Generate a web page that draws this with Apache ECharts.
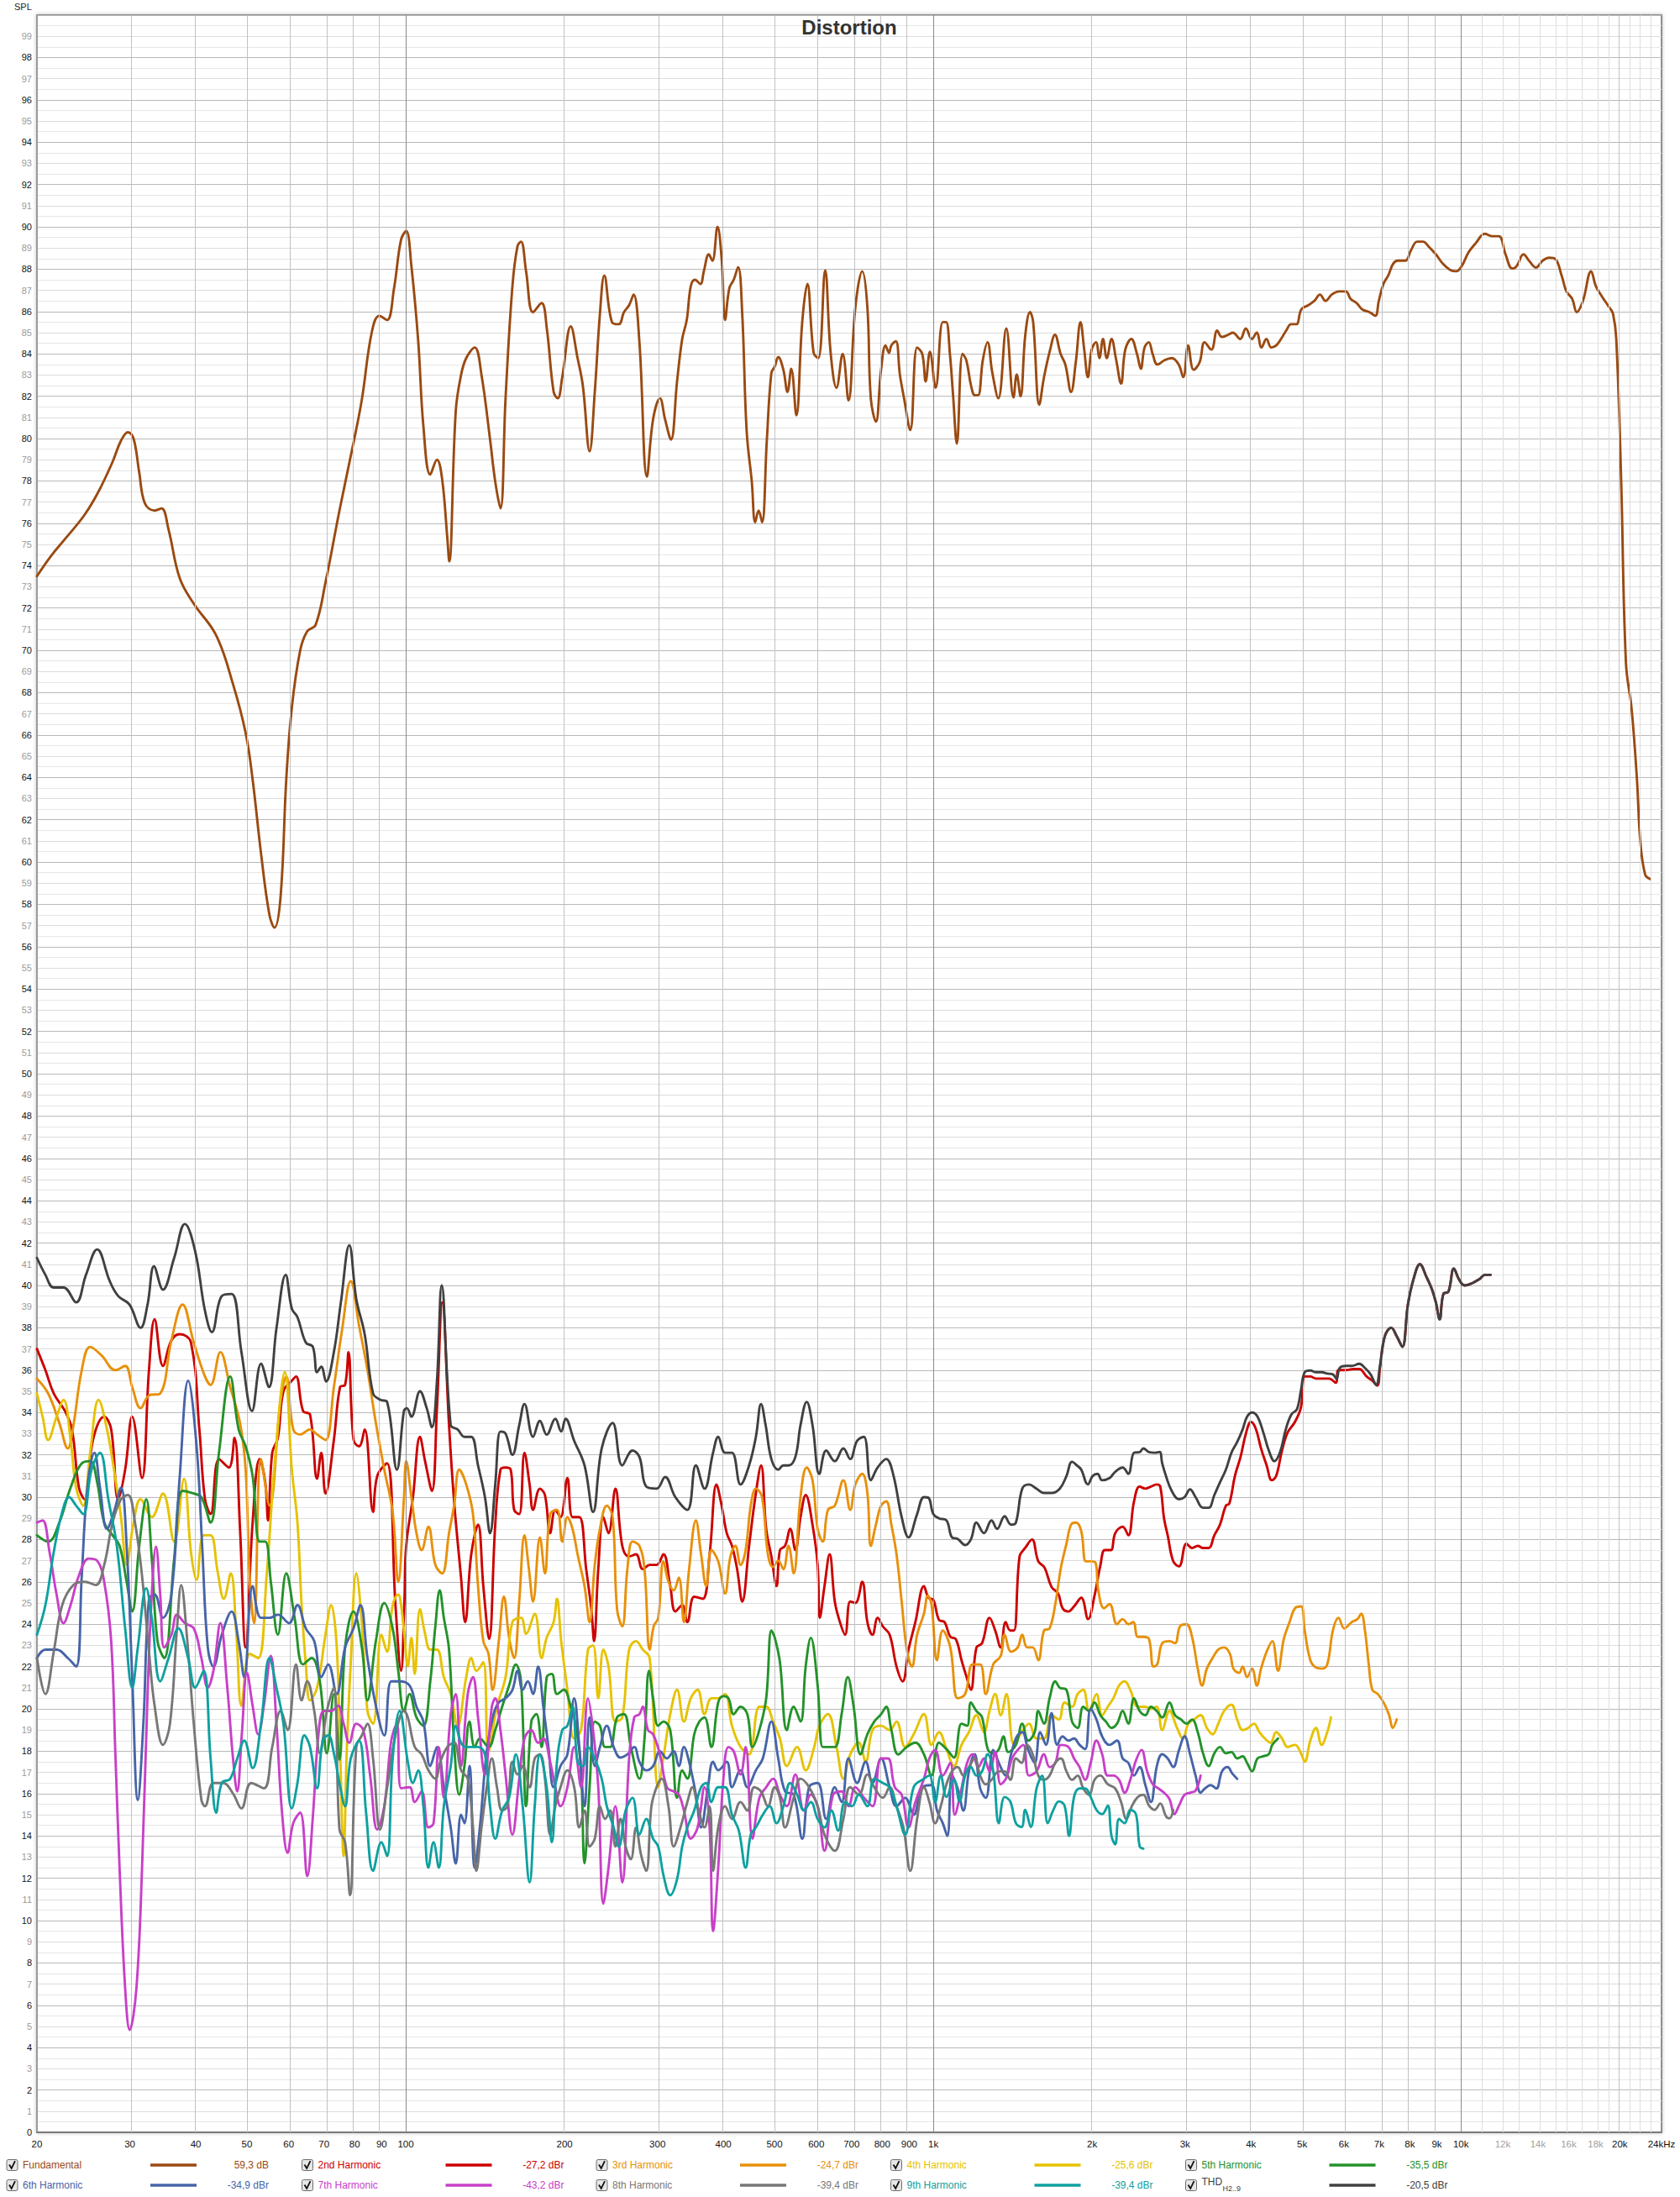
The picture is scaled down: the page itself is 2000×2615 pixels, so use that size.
<!DOCTYPE html>
<html><head><meta charset="utf-8">
<script src="https://cdn.jsdelivr.net/npm/echarts@6/dist/echarts.min.js"></script>
<style>html,body{margin:0;padding:0;background:#fff}#c{width:2000px;height:2615px}</style>
</head><body><div id="c"></div>
<script>
// ---- data: [frequency Hz, dB] ----
const fundamental = [[20,73.5],[21.26,74.45],[22.6,75.25],[24.62,76.4],[26.17,77.5],[27.82,78.9],[28.86,79.9],[29.75,80.3],[30.49,80.0],[31.25,78.4],[32.02,76.95],[33.42,76.6],[34.45,76.7],[35.52,75.7],[37.3,73.4],[39.65,72.2],[43.73,70.7],[47.06,68.4],[49.72,66.1],[51.26,63.9],[53.18,60.4],[55.17,57.5],[56.39,56.9],[57.93,58.4],[59.37,63.9],[60.83,67.3],[63.1,70.0],[65.06,70.9],[67.49,71.2],[70.45,73.2],[74.88,76.6],[79.61,79.8],[82.58,81.85],[86.19,85.0],[89.08,85.8],[92.17,85.6],[95.03,87.1],[97.99,89.4],[100.2,89.8],[102.5,88.15],[105.6,84.6],[108,80.6],[111.3,78.3],[114.6,79.0],[117.2,78.1],[119.9,75.3],[120.9,74.2],[124.4,81.3],[127.3,83.0],[130.2,83.8],[135.1,84.3],[139.2,83.0],[144.5,79.95],[147.8,77.96],[151.2,76.7],[154.6,81.9],[159.3,87.2],[162.9,89.1],[165.4,89.3],[169.1,87.9],[174.3,85.97],[180.9,86.4],[185.1,85.2],[190.7,82.2],[194.2,81.9],[198,82.9],[205.5,85.3],[211.7,83.8],[216.6,82.5],[223.1,79.4],[228.2,82.2],[233.4,85.9],[237.9,87.7],[246,85.5],[253.4,85.4],[259.2,85.97],[265.1,86.3],[270.3,86.8],[277.2,84.6],[286.5,78.2],[294.3,80.9],[303.3,81.9],[310.2,80.9],[318.2,79.95],[326.8,82.7],[334.2,84.7],[340.9,85.6],[347,87.2],[353.4,87.5],[361.8,87.3],[367.3,87.9],[375.3,88.7],[381.3,88.4],[389.9,90.0],[397,88.5],[403,85.6],[410.5,87.1],[418.4,87.5],[426.6,88.1],[434.3,85.9],[442.8,80.35],[452.8,77.97],[459.6,76.05],[466.5,76.6],[473.6,76.05],[483.6,79.95],[493.2,83.1],[500.6,83.4],[508.2,83.85],[519.7,83.25],[529.1,82.2],[537.9,83.3],[550,81.1],[564.3,85.5],[577.1,87.3],[593.1,84.05],[605.4,83.8],[623.7,87.95],[638.8,84.05],[655.4,82.4],[673.2,84.0],[690.6,81.8],[711.6,86.2],[733.2,87.9],[749.9,86.2],[761.2,81.9],[778.4,80.8],[796.1,83.25],[811.8,84.4],[824.1,84.05],[832.7,84.4],[849,84.6],[864.4,83.0],[880.1,81.9],[904.1,80.4],[931.6,84.3],[952.8,84.0],[967.1,82.7],[985.1,84.1],[1010,82.4],[1042,85.5],[1057,85.5],[1075,84.0],[1090,82.05],[1108,79.76],[1136,84.0],[1155,83.7],[1179,82.5],[1199,82.05],[1216,82.05],[1241,83.7],[1267,84.55],[1293,83.14],[1328,81.9],[1375,85.2],[1419,81.94],[1439,83.03],[1463,82.0],[1494,84.9],[1525,85.97],[1546,85.5],[1588,81.6],[1621,82.9],[1665,84.2],[1700,84.9],[1743,84.0],[1779,83.5],[1824,82.2],[1862,83.6],[1901,85.5],[1932,84.2],[1963,82.9],[1996,84.2],[2034,84.55],[2064,83.8],[2097,84.7],[2132,83.8],[2177,84.7],[2218,83.8],[2269,82.6],[2311,84.2],[2373,84.7],[2432,84.0],[2473,83.3],[2514,84.3],[2561,84.55],[2604,84.0],[2659,83.5],[2743,83.7],[2832,83.8],[2917,83.5],[2977,82.9],[3040,84.4],[3115,83.25],[3197,83.6],[3267,84.55],[3365,84.2],[3452,85.1],[3523,84.8],[3619,84.9],[3696,85.0],[3816,84.7],[3911,85.2],[4016,84.7],[4101,85.0],[4189,84.3],[4279,84.7],[4371,84.3],[4466,84.4],[4560,84.7],[4664,85.1],[4766,85.4],[4877,85.4],[4983,86.1],[5136,86.3],[5274,86.5],[5405,86.8],[5538,86.5],[5690,86.8],[5870,86.95],[6052,86.95],[6179,86.6],[6344,86.4],[6500,86.1],[6708,85.97],[6882,85.8],[6988,86.5],[7130,87.3],[7282,87.7],[7437,88.25],[7594,88.4],[7842,88.4],[8044,88.9],[8260,89.3],[8478,89.3],[8693,89.06],[8965,88.7],[9248,88.25],[9536,87.97],[9799,87.9],[10030,88.14],[10340,88.8],[10670,89.23],[11100,89.67],[11440,89.56],[11800,89.56],[12150,88.7],[12510,88.03],[12750,88.14],[13140,88.7],[13500,88.36],[13880,88.08],[14280,88.4],[14690,88.54],[15110,88.47],[15520,87.7],[15850,86.95],[16250,86.6],[16580,85.97],[17030,86.5],[17650,87.9],[18020,87.2],[18520,86.7],[19100,86.2],[19420,85.9],[19700,84.7],[20120,78.1],[20550,69.4],[21070,67.2],[21550,63.98],[21890,60.9],[22350,59.4],[22820,59.2]];

const harmonic2 = [[20,37.0],[20.75,36.0],[21.52,34.9],[22.6,34.07],[23.3,33.2],[24.02,30.45],[24.62,29.9],[25.54,32.7],[26.82,33.8],[27.65,33.2],[28.51,29.9],[29.39,31.3],[30.31,33.8],[31.63,30.9],[32.61,36.0],[33.42,38.4],[34.66,36.2],[35.96,37.4],[37.3,37.7],[39.17,37.3],[40.63,33.2],[41.64,29.9],[42.67,29.2],[44.26,31.8],[46.2,31.4],[47.35,32.8],[48.52,28.5],[49.72,22.9],[51.26,28.8],[52.85,31.8],[54.16,30.7],[54.83,28.9],[55.84,32.1],[57.23,32.8],[58.64,35.0],[60.83,35.5],[61.95,35.7],[63.88,34.07],[65.86,33.9],[67.91,30.87],[69.17,32.1],[70.45,30.17],[73.08,32.7],[75.07,35.2],[76.74,35.3],[77.88,36.85],[79.61,32.7],[81.58,32.4],[83.59,33.2],[86.71,29.3],[88.31,31.0],[92.17,31.6],[95.62,24.9],[97.99,21.8],[99.4,25.0],[100.2,27.7],[103.2,30.0],[106.4,32.85],[108.8,31.7],[112.1,30.3],[114.6,34.2],[117.3,39.2],[120.8,33.4],[123.5,29.8],[127.3,26.2],[129.6,24.1],[133.1,27.3],[137.1,28.7],[140.3,25.8],[143.9,23.3],[147.8,28.7],[151.2,31.3],[154.6,31.4],[158.1,31.3],[160.5,29.4],[164.1,29.2],[167.9,32.1],[171.7,30.6],[174.3,29.4],[179.6,30.4],[183.6,30.1],[187.8,28.3],[192.1,29.4],[196.5,29.06],[202.5,30.9],[207.1,29.06],[213.3,29.06],[219.8,26.6],[224.8,24.7],[227.5,23.2],[231.7,26.6],[236.9,29.06],[242.3,28.3],[249.7,30.4],[257.3,27.7],[265.1,27.2],[273.2,27.3],[281.4,26.6],[290,26.8],[298.8,26.8],[307.9,27.3],[317.2,25.8],[324.4,24.6],[334.2,24.9],[341.8,24.1],[352.2,25.3],[365.6,25.2],[376.7,27.3],[388.2,30.6],[397,29.6],[406,28.3],[415.3,27.7],[424.7,26.6],[434.3,25.07],[447.5,27.7],[461,30.2],[471.5,31.5],[482.2,28.5],[493.2,27.2],[504.4,25.8],[512,27.5],[523.6,27.7],[535.5,28.5],[547.7,27.5],[560.1,29.06],[572.9,30.1],[590.2,28.7],[603.6,26.8],[609.4,24.3],[621.9,25.8],[636,27.3],[650.5,25.07],[665.2,24.1],[680.3,23.5],[695.8,25.07],[711.6,25.0],[733.2,26.0],[749.9,24.1],[766.9,23.5],[784.3,24.3],[802.1,23.9],[826.5,23.5],[851.6,22.0],[874.8,21.3],[897.4,22.8],[924.7,24.1],[959.9,25.8],[979,25.25],[1000,25.15],[1025,24.2],[1050,24.1],[1077,23.4],[1103,23.3],[1131,22.3],[1153,21.6],[1178,20.9],[1207,22.9],[1237,23.1],[1278,24.3],[1310,23.7],[1342,22.9],[1371,24.1],[1399,23.7],[1422,23.7],[1457,27.2],[1493,27.6],[1538,28.0],[1581,26.97],[1625,26.67],[1675,25.76],[1724,25.45],[1758,24.75],[1803,24.6],[1848,24.84],[1907,25.25],[1965,24.24],[2021,25.35],[2073,26.77],[2114,27.5],[2170,27.5],[2212,28.3],[2285,28.6],[2342,28.2],[2401,29.8],[2461,30.5],[2523,30.4],[2585,30.5],[2650,30.6],[2692,30.5],[2737,29.0],[2781,28.2],[2849,26.97],[2922,26.73],[3018,27.8],[3093,27.6],[3171,27.7],[3245,27.6],[3326,27.6],[3409,28.2],[3494,28.7],[3585,29.6],[3640,29.7],[3729,31.0],[3822,31.9],[3917,33.05],[3999,33.55],[4082,33.25],[4180,32.3],[4283,31.5],[4381,30.8],[4465,31.0],[4580,32.2],[4693,33.05],[4846,33.55],[4977,34.26],[5057,35.7],[5183,35.7],[5311,35.6],[5444,35.6],[5626,35.6],[5793,35.4],[5860,36.0],[6060,36.0],[6254,36.05],[6419,36.05],[6627,35.7],[6793,35.5],[6942,35.27],[7023,36.1],[7174,37.6],[7377,38.0],[7557,37.6],[7744,37.1],[7935,39.1],[8132,40.3],[8361,41.0],[8604,40.4],[8817,39.8],[8964,39.2],[9113,38.4],[9263,39.6],[9468,39.7],[9696,40.8],[9910,40.3],[10160,40.0],[10490,40.1],[10840,40.3],[11110,40.5],[11380,40.5]];

const harmonic3 = [[20,35.6],[21.0,34.9],[22.05,33.5],[22.88,32.3],[23.45,33.4],[24.32,36.0],[25.23,37.1],[26.5,36.7],[28.16,36.0],[29.39,36.2],[30.31,35.2],[31.44,34.2],[32.61,34.8],[34.25,34.9],[35.96,37.4],[37.76,39.1],[39.65,37.3],[41.64,35.7],[42.67,35.3],[44.53,36.85],[46.48,35.2],[48.52,33.5],[49.72,31.3],[50.64,26.0],[51.58,24.05],[53.18,31.8],[55.17,29.6],[57.93,34.6],[59.37,35.7],[61.2,33.2],[63.1,32.96],[65.86,33.2],[67.91,32.96],[70.45,32.7],[73.08,35.2],[75.81,37.97],[78.64,40.2],[81.58,38.1],[84.62,36.0],[87.78,33.5],[91.06,31.3],[94.45,29.3],[96.79,26.0],[99.2,29.9],[100.2,31.7],[102.5,30.0],[104.8,28.3],[107.2,27.5],[110.4,28.6],[113.8,26.8],[117.2,26.4],[120.8,28.3],[123.5,29.6],[126.3,31.3],[130.2,30.6],[134.1,29.2],[137.1,25.8],[140.3,23.2],[143.5,22.6],[146.1,20.9],[150.1,23.2],[153.5,25.3],[157,23.36],[160.5,22.4],[164.1,25.07],[167.9,28.2],[171.2,26.6],[174.3,25.07],[179.6,28.1],[183.6,26.4],[187.8,29.2],[193.5,29.4],[198,27.9],[202.5,29.06],[207.1,28.5],[211.7,27.3],[218.2,25.8],[223.1,24.1],[228.2,26.8],[233.4,28.5],[240.5,29.6],[246.7,29.06],[251.5,24.7],[257.3,23.9],[263.1,26.6],[269.1,27.9],[277.3,27.7],[283.5,26.6],[290,22.8],[295.2,23.9],[301,24.3],[307.9,26.97],[314.8,26.0],[322,25.6],[329.3,26.2],[336.7,24.1],[344.4,26.6],[354.8,28.9],[362.9,27.3],[371.1,25.8],[379.6,27.5],[391.1,26.97],[403,25.45],[412.1,27.15],[421.5,27.7],[431.1,26.8],[440.8,27.5],[450.8,29.6],[461,30.4],[473.6,30.0],[485.8,27.3],[496.9,26.7],[508.2,27.0],[519.7,26.6],[531.5,27.7],[543.6,26.4],[560.1,30.0],[575.4,31.4],[590.2,30.8],[603.6,28.5],[617.3,27.9],[631.3,29.4],[650.5,29.6],[675.3,30.8],[695.8,29.4],[711.6,30.6],[733.2,31.1],[749.9,30.2],[761.2,27.7],[778.4,28.7],[796.1,29.6],[814.2,29.8],[832.7,28.7],[851.6,27.3],[870.9,25.07],[890.7,22.8],[910.9,22.0],[931.6,23.5],[959.9,24.5],[976,25.35],[992,24.95],[1016,22.3],[1042,23.7],[1077,22.9],[1112,20.5],[1149,20.7],[1187,22.1],[1227,22.1],[1257,20.7],[1299,22.1],[1342,22.5],[1365,23.5],[1404,22.7],[1445,22.9],[1474,23.5],[1506,22.9],[1543,22.9],[1581,22.3],[1621,23.7],[1661,23.8],[1703,24.95],[1745,26.67],[1788,27.8],[1824,28.7],[1863,28.8],[1907,28.4],[1946,26.97],[1987,26.97],[2030,26.9],[2054,25.6],[2107,24.75],[2158,24.95],[2229,24.0],[2285,24.24],[2342,24.0],[2393,24.1],[2441,23.4],[2501,23.4],[2563,23.3],[2613,22.0],[2657,22.1],[2715,23.1],[2803,23.2],[2872,23.1],[2935,23.9],[3018,24.0],[3093,23.4],[3171,21.9],[3231,21.1],[3299,21.9],[3383,22.4],[3468,22.8],[3557,22.9],[3649,22.6],[3705,21.9],[3799,21.7],[3857,22.0],[3932,21.5],[4020,21.9],[4104,21.1],[4180,21.9],[4283,22.7],[4390,23.2],[4501,21.8],[4616,23.3],[4734,24.1],[4846,24.75],[4977,24.84],[5057,23.7],[5183,22.3],[5311,21.95],[5444,21.9],[5580,22.1],[5719,23.7],[5860,24.3],[6011,23.8],[6212,24.1],[6367,24.24],[6472,24.5],[6578,23.7],[6688,22.1],[6793,20.9],[6958,20.7],[7136,20.3],[7311,19.7],[7425,19.1],[7557,19.5]];

const harmonic4 = [[20,34.9],[20.5,33.8],[21.0,32.7],[21.79,33.8],[22.46,34.6],[23.16,32.7],[23.73,30.45],[24.47,29.6],[25.23,32.1],[26.17,34.6],[27.15,33.2],[27.99,31.3],[28.86,29.06],[29.58,26.8],[30.49,28.8],[31.44,29.9],[33.01,29.06],[34.66,30.17],[36.4,27.9],[37.99,30.87],[39.17,27.4],[40.14,26.1],[41.39,28.2],[42.67,28.2],[43.99,26.5],[45.2,25.2],[46.59,26.4],[47.76,23.5],[48.82,20.15],[50.64,22.6],[52.53,22.4],[54.5,26.3],[56.53,31.8],[59.0,35.9],[60.83,31.3],[62.34,28.8],[63.48,24.9],[64.66,22.1],[65.86,20.4],[67.91,21.0],[70.45,23.5],[72.19,24.9],[73.97,23.0],[75.1,18.0],[76.27,13.05],[77.3,18.0],[78.64,22.1],[80.59,26.4],[82.58,24.05],[84.62,19.9],[86.71,19.3],[89.95,23.5],[92.17,22.7],[94.45,24.9],[96.79,25.4],[97.99,24.9],[99.4,23.5],[100.9,22.0],[102.5,23.36],[104,21.65],[106.4,24.7],[108.8,23.55],[111.3,22.8],[114.6,22.8],[118.1,21.5],[121.7,20.7],[125.4,19.2],[130.2,21.5],[133.1,22.4],[136.1,21.8],[140.3,22.2],[143.5,18.0],[148.9,20.1],[154.6,21.5],[159.3,24.1],[165.4,24.3],[169.1,23.55],[175.6,24.5],[180.9,22.4],[185,23.36],[190.7,24.1],[193.5,25.2],[197.1,23.2],[202.5,20.9],[208.6,18.6],[214.9,19.0],[221.5,22.8],[226.5,23.0],[231.7,20.5],[236.9,22.8],[242.3,22.0],[249.7,19.4],[257.3,19.6],[265.1,22.8],[273.2,23.2],[281.4,22.8],[290,22.4],[301,16.3],[307.9,17.7],[317.2,19.75],[326.8,20.9],[336.7,19.4],[347,20.5],[357.5,20.9],[368.4,19.75],[379.6,20.5],[391.1,20.5],[403,20.7],[415.3,19.2],[431.1,18.2],[447.5,17.85],[468,20.1],[482.2,20.1],[496.9,19.4],[512,18.6],[527.6,17.3],[551.8,18.2],[572.9,17.1],[594.6,18.2],[608.1,19.2],[631.3,19.75],[655.4,18.2],[675.3,16.7],[695.8,17.85],[722.3,18.4],[744.3,17.5],[766.9,19.0],[796.1,19.2],[826.5,19.0],[851.6,19.4],[884.1,18.2],[917.8,18.8],[959.9,19.75],[992,18.3],[1025,18.9],[1059,18.1],[1094,17.3],[1131,18.3],[1168,18.9],[1207,19.7],[1247,18.9],[1278,19.9],[1310,20.7],[1342,19.7],[1376,20.7],[1422,18.3],[1470,18.9],[1518,19.3],[1569,18.6],[1621,18.6],[1675,19.7],[1730,19.5],[1773,20.3],[1832,20.1],[1877,20.7],[1924,20.9],[1973,19.9],[2038,20.7],[2089,19.7],[2141,20.1],[2194,20.5],[2249,21.1],[2305,21.3],[2362,20.9],[2441,20.1],[2523,20.1],[2585,20.0],[2650,20.1],[2715,19.0],[2803,19.9],[2897,19.1],[2970,18.6],[3043,19.3],[3118,19.5],[3211,19.7],[3299,19.1],[3383,18.8],[3468,19.3],[3557,19.9],[3673,20.2],[3766,19.5],[3857,19.0],[3950,19.1],[4051,19.3],[4150,18.9],[4249,18.6],[4355,18.4],[4465,18.9],[4580,18.6],[4693,18.2],[4846,18.3],[4977,17.9],[5057,17.5],[5183,18.5],[5311,19.1],[5444,18.3],[5580,18.9],[5672,19.6]];

const harmonic5 = [[20,28.2],[21.0,27.9],[22.05,28.8],[23.16,30.45],[24.32,31.6],[25.23,31.7],[26.01,30.7],[26.82,28.8],[27.82,28.2],[28.69,27.7],[29.58,26.0],[30.31,24.6],[31.25,27.7],[32.22,29.9],[33.01,27.1],[33.84,23.2],[34.86,22.4],[36.4,27.1],[37.76,30.3],[39.65,30.17],[40.99,30.0],[42.67,28.8],[44.26,32.1],[46.48,35.7],[48.22,33.2],[49.72,32.4],[51.26,31.0],[52.85,27.9],[54.16,27.9],[55.5,26.0],[57.23,23.5],[59.37,26.4],[61.58,24.3],[63.88,22.1],[66.32,22.4],[68.74,21.3],[70.88,17.9],[73.08,20.7],[74.88,17.6],[76.74,22.9],[79.61,24.6],[82.58,22.9],[84.62,20.4],[87.78,23.2],[91.06,25.0],[94.45,23.8],[96.79,21.8],[99.2,19.9],[101.7,20.7],[104.8,19.6],[108,19.2],[111.3,21.3],[113.8,23.9],[116,25.6],[118.1,24.3],[120.8,22.8],[123.5,18.4],[126.3,15.95],[129.2,17.3],[132.1,19.4],[135.1,18.2],[138.2,18.6],[143.5,18.2],[147.8,19.0],[152.3,20.1],[157,21.1],[161.7,22.1],[165.4,21.3],[169.1,15.4],[173,19.4],[176.9,19.75],[180.9,18.2],[185,21.5],[189.2,21.65],[193.5,20.7],[199.4,20.9],[205.5,20.1],[210.2,19.2],[214.9,17.1],[218.2,12.7],[223.1,16.3],[228.2,19.4],[233.4,19.2],[238.7,18.2],[244.1,18.2],[251.5,19.6],[259.2,19.75],[267.1,18.2],[277.3,16.7],[283.5,18.6],[289.1,21.8],[294.3,20.5],[301,19.2],[307.9,19.4],[317.2,19.0],[326.8,15.8],[334.2,17.1],[341.8,16.7],[352.2,18.8],[360.2,19.4],[368.4,19.6],[379.6,18.2],[391.1,20.3],[400,20.6],[409,20.5],[418.4,19.75],[431.1,20.1],[444.1,19.75],[454.2,18.2],[468,19.0],[482.2,20.5],[493.2,23.7],[500.6,23.36],[512,22.2],[527.6,19.0],[543.6,20.1],[560.1,19.4],[572.9,22.0],[585.8,23.36],[603.6,21.1],[617.3,18.2],[631.3,18.2],[650.5,18.2],[670.2,19.75],[688.5,21.5],[706.3,20.1],[727.7,17.85],[749.9,18.8],[772.7,19.4],[796.1,19.75],[814.2,20.1],[832.7,19.0],[858,17.85],[890.7,18.2],[924.7,18.4],[959.9,17.85],[992,16.85],[1025,18.4],[1059,18.1],[1094,17.7],[1131,19.3],[1159,19.2],[1178,20.3],[1207,19.9],[1237,19.6],[1268,18.1],[1299,17.9],[1331,18.1],[1358,18.7],[1387,17.96],[1434,18.3],[1474,19.3],[1513,18.5],[1556,18.9],[1581,19.9],[1621,19.3],[1661,20.5],[1703,21.3],[1736,21.0],[1788,20.9],[1832,19.4],[1877,19.1],[1924,20.1],[1973,19.9],[2021,20.3],[2073,19.7],[2124,19.4],[2176,19.1],[2229,19.3],[2285,19.9],[2342,19.3],[2401,20.5],[2461,19.9],[2523,19.7],[2585,20.1],[2650,19.9],[2715,19.6],[2803,20.3],[2872,19.7],[2947,19.5],[3018,19.3],[3093,19.5],[3171,18.9],[3245,17.9],[3326,17.3],[3409,17.9],[3494,18.2],[3585,17.9],[3673,17.96],[3766,17.66],[3857,17.76],[3932,17.45],[4020,17.05],[4117,17.66],[4222,17.76],[4324,17.86],[4390,18.3],[4501,18.6]];

const harmonic6 = [[20,22.4],[20.75,22.8],[21.79,22.8],[22.88,22.4],[23.73,22.0],[24.32,26.3],[24.92,30.45],[25.7,32.1],[26.33,30.45],[27.15,28.5],[27.99,29.3],[28.86,30.45],[29.58,27.7],[30.31,21.5],[31.06,15.7],[31.82,19.3],[32.61,25.2],[33.42,25.4],[34.66,24.3],[35.96,25.4],[37.3,31.0],[38.69,35.5],[40.14,32.4],[41.13,27.7],[42.15,22.9],[43.2,22.0],[44.81,23.5],[46.77,24.6],[48.22,23.2],[49.42,21.5],[51.26,25.8],[53.18,24.3],[55.17,24.3],[57.23,24.45],[60.09,24.05],[62.34,24.9],[64.66,23.8],[67.08,23.2],[69.17,21.5],[71.31,22.1],[73.97,20.7],[76.74,22.9],[79.61,23.8],[82.07,24.9],[84.62,22.4],[87.78,20.15],[91.06,18.75],[93.9,21.3],[97.39,21.3],[101.7,21.1],[104.8,20.1],[108,19.4],[111.3,17.3],[114.6,18.2],[118.1,16.3],[121.7,14.4],[124.4,12.7],[127.3,15.0],[129.2,14.6],[132.1,17.3],[135.1,12.5],[138.2,14.4],[142.4,18.0],[146.7,19.75],[150.1,20.3],[154.6,20.5],[159.3,20.9],[162.9,21.8],[166.6,20.9],[170.4,21.3],[174.3,20.7],[178.2,22.0],[182.3,20.1],[186.4,18.2],[190.7,16.3],[196.5,17.3],[202.5,17.85],[208.6,20.5],[213.3,18.2],[218.2,15.4],[223.1,19.6],[228.2,17.3],[233.4,18.2],[240.5,19.2],[247.8,18.2],[255.3,17.7],[263.1,17.85],[271.1,18.2],[277.3,17.5],[285.7,17.1],[294.3,17.3],[303.3,18.0],[312.5,17.66],[322,18.0],[329.3,17.3],[336.7,18.2],[344.4,17.5],[354.8,15.95],[362.9,14.4],[373.9,16.3],[382.4,17.5],[391.1,17.1],[406,17.5],[415.3,16.3],[431.1,17.1],[444.1,16.3],[461,17.1],[475.1,17.66],[493.2,19.4],[508.2,17.66],[523.6,16.1],[543.6,15.95],[564.4,13.87],[581.5,16.3],[603.6,16.5],[626.6,14.8],[650.5,16.3],[670.2,15.6],[690.6,17.66],[716.9,16.5],[744.3,17.5],[766.9,16.5],[796.1,17.66],[826.5,16.3],[851.6,15.4],[884.1,15.8],[917.8,15.0],[952.8,16.3],[992,16.4],[1016,15.2],[1042,14.6],[1063,14.0],[1085,16.85],[1112,16.24],[1140,15.2],[1168,17.05],[1197,17.86],[1227,16.24],[1257,15.8],[1299,18.06],[1331,17.45],[1371,16.85],[1404,17.86],[1440,18.7],[1474,18.9],[1513,18.06],[1556,17.45],[1594,18.9],[1635,18.3],[1675,19.8],[1717,18.3],[1758,18.7],[1803,18.5],[1848,18.6],[1893,18.3],[1940,18.1],[1987,20.0],[2038,19.5],[2089,18.7],[2158,18.3],[2229,18.5],[2285,17.66],[2342,17.45],[2401,16.85],[2461,17.25],[2523,16.4],[2585,15.6],[2650,17.25],[2715,17.86],[2781,17.66],[2849,17.25],[2922,18.06],[2993,18.7],[3066,17.86],[3141,16.85],[3211,16.04],[3272,16.24],[3354,16.4],[3438,16.24],[3525,17.05],[3613,17.25],[3686,16.95],[3766,16.7]];

const harmonic7 = [[20,28.8],[20.5,28.9],[21.13,27.4],[21.79,25.4],[22.46,24.05],[23.16,24.9],[24.02,26.3],[25.08,27.1],[26.01,27.0],[26.82,26.0],[27.65,23.2],[28.16,17.9],[28.69,12.4],[29.39,6.8],[29.98,4.84],[30.87,6.8],[31.63,12.4],[32.41,20.7],[33.01,25.4],[33.62,27.66],[34.25,25.4],[34.86,22.9],[35.96,23.5],[36.85,24.45],[38.14,24.05],[39.65,23.8],[40.99,22.4],[42.15,21.0],[43.2,21.8],[44.53,24.05],[45.9,21.0],[47.06,17.65],[47.92,16.1],[48.9,18.8],[50.03,21.7],[51.26,20.15],[52.53,18.8],[53.84,20.15],[55.5,22.5],[56.88,19.3],[58.28,15.1],[59.72,13.2],[61.2,14.6],[63.1,15.1],[65.06,12.1],[66.67,14.9],[68.33,18.8],[70,19.9],[72.19,19.9],[74.43,20.15],[76.27,19.3],[78.16,18.4],[80.59,19.3],[83.08,19.0],[85.66,16.8],[88.31,14.3],[91.06,15.4],[93.88,18.5],[96.21,19.3],[97.99,16.25],[101.7,16.3],[104,15.6],[107.2,16.1],[110.4,14.4],[112.9,14.6],[115.5,18.2],[118.1,15.8],[121.7,19.75],[124.4,20.7],[127.3,17.3],[131.1,20.7],[134.1,21.5],[137.1,19.6],[141.3,16.9],[145.6,20.1],[147.8,20.5],[151.2,19.0],[154.6,16.9],[159.3,14.06],[164.1,16.7],[167.9,18.6],[173,19.0],[178.2,18.4],[182.3,18.6],[187.8,17.5],[192.1,16.3],[196.5,15.4],[202.5,16.3],[208.6,18.2],[214.9,16.3],[221.5,20.5],[226.5,19.0],[231.7,16.3],[236.9,10.8],[242.3,12.5],[249.7,15.4],[257.3,11.8],[265.1,17.66],[271.1,19.6],[277.3,19.75],[281.4,20.1],[287.8,19.0],[294.3,18.8],[303.3,17.85],[312.5,16.3],[322,16.1],[329.3,15.95],[336.7,15.2],[347,13.87],[357.5,14.4],[368.4,16.3],[376.7,14.4],[382.4,9.5],[391.1,12.5],[400,16.7],[409,18.2],[418.4,18.0],[431.1,16.9],[440.8,18.2],[454.2,13.87],[468,15.8],[482.2,16.3],[496.9,16.7],[512,15.95],[527.6,15.4],[547.7,16.9],[568.6,15.2],[585.8,15.95],[603.6,15.4],[621.9,13.3],[645.6,15.95],[670.2,16.1],[690.6,15.4],[711.6,16.3],[738.7,15.8],[766.9,15.4],[796.1,17.66],[820.3,17.66],[845.2,16.3],[870.9,15.95],[897.4,14.4],[924.7,15.6],[959.9,16.7],[983,17.66],[1008,18.06],[1042,16.85],[1077,17.45],[1098,15.0],[1131,16.24],[1159,17.45],[1187,17.86],[1217,17.25],[1247,17.66],[1278,17.05],[1310,17.96],[1342,16.44],[1376,16.75],[1410,17.66],[1445,18.06],[1481,18.3],[1518,16.85],[1569,17.05],[1621,17.86],[1661,17.25],[1703,17.45],[1745,18.3],[1803,18.2],[1848,17.66],[1893,17.25],[1940,16.65],[1987,17.45],[2038,18.5],[2089,17.86],[2141,16.85],[2194,16.85],[2249,16.65],[2305,16.04],[2362,16.65],[2421,17.56],[2481,18.06],[2543,17.05],[2606,16.44],[2671,16.24],[2737,16.04],[2803,15.74],[2863,15.03],[2922,15.43],[2993,15.94],[3066,16.04],[3141,16.14],[3211,16.85]];

const harmonic8 = [[20,22.4],[20.75,20.7],[21.52,22.7],[22.33,24.9],[23.45,25.85],[24.62,26.0],[25.85,25.85],[26.82,26.8],[27.82,28.8],[28.86,29.9],[29.75,30.1],[30.68,28.8],[31.63,26.3],[32.61,22.7],[33.42,20.15],[34.66,18.3],[35.74,19.3],[36.85,23.8],[37.53,25.85],[38.46,23.5],[39.65,19.3],[40.99,15.7],[41.64,15.4],[43.2,16.5],[45.08,16.5],[47.06,16.0],[48.82,15.3],[50.94,16.5],[53.84,16.25],[55.84,18.2],[57.93,19.9],[59.72,19.0],[61.95,22.1],[63.48,20.4],[65.06,21.3],[67.08,19.9],[68.74,17.9],[70.88,19.9],[73.08,21.0],[74.88,14.3],[76.74,13.7],[78.4,11.2],[80.59,18.2],[82.58,18.75],[84.62,19.3],[86.71,17.65],[89.4,14.3],[92.17,16.25],[95.62,18.75],[99.2,19.9],[100.9,19.6],[104,18.2],[107.2,17.85],[110.4,17.1],[113.8,16.7],[116.3,17.5],[119.9,18.2],[123.5,18.4],[127.3,17.1],[131.1,16.7],[134.1,14.4],[136.1,12.35],[139.2,14.4],[142.4,16.3],[145.6,17.66],[148.9,16.3],[152.3,15.2],[155.8,15.4],[159.3,17.5],[162.9,16.9],[166.6,17.3],[171.7,16.3],[175.6,17.66],[179.6,17.85],[183.6,16.7],[187.8,14.06],[192.1,15.4],[196.5,16.3],[202.5,17.1],[208.6,16.3],[213.3,14.4],[218.2,15.2],[223.1,13.5],[228.2,13.87],[233.4,15.4],[238.7,14.8],[244.1,15.2],[249.7,13.5],[255.3,14.8],[261.1,13.5],[267.1,12.9],[273.2,14.4],[279.3,13.1],[285.7,12.35],[292.2,15.4],[298.8,16.3],[305.6,16.7],[314.8,15.4],[322,13.5],[331.7,14.4],[341.8,15.6],[349.6,16.3],[357.5,15.4],[368.4,14.4],[376.7,15.4],[382.4,12.35],[391.1,14.4],[403,15.4],[415.3,14.8],[431.1,15.6],[444.1,15.2],[457.6,16.3],[471.5,16.1],[485.8,15.4],[500.6,16.3],[512,15.8],[523.6,14.4],[543.6,15.8],[560.1,16.7],[581.5,16.3],[603.6,15.4],[621.9,14.06],[650.5,13.3],[675.3,14.8],[695.8,16.3],[722.3,15.95],[749.9,16.9],[772.7,16.3],[802.1,15.8],[826.5,16.3],[851.6,15.4],[877.5,14.4],[904.1,12.35],[931.6,14.8],[959.9,16.3],[983,15.6],[1008,14.6],[1033,15.4],[1059,16.44],[1085,17.05],[1112,17.25],[1140,16.85],[1168,17.25],[1197,17.66],[1227,16.85],[1257,16.44],[1289,16.65],[1331,17.05],[1365,17.05],[1399,16.65],[1434,17.66],[1470,17.45],[1506,18.3],[1543,17.86],[1581,16.85],[1621,16.65],[1661,16.85],[1703,17.45],[1745,17.66],[1788,17.05],[1832,16.65],[1877,16.85],[1924,16.24],[1973,15.94],[2021,16.65],[2073,16.85],[2141,16.44],[2212,16.24],[2267,15.63],[2323,14.8],[2381,15.43],[2441,15.84],[2501,15.94],[2563,15.43],[2627,15.23],[2692,15.53],[2760,14.93],[2803,14.83],[2849,15.23]];

const harmonic9 = [[20,23.5],[20.75,24.9],[21.52,27.4],[22.33,29.3],[23.02,30.0],[23.73,29.6],[24.47,29.2],[25.38,31.3],[26.33,32.1],[27.31,29.9],[28.34,27.7],[29.39,23.8],[30.31,21.0],[31.06,22.9],[32.22,25.7],[33.01,24.3],[34.25,21.3],[35.52,22.4],[37.07,23.8],[38.69,22.4],[39.9,21.0],[41.39,21.8],[42.67,17.65],[43.73,15.1],[44.81,16.5],[46.48,16.7],[47.92,17.65],[49.42,18.5],[51.26,17.2],[53.18,19.3],[55.17,22.4],[56.88,21.0],[58.64,19.3],[60.83,15.3],[62.34,16.5],[64.27,18.75],[65.86,18.2],[67.91,16.25],[69.59,18.5],[71.31,18.75],[73.08,17.9],[74.88,16.5],[76.74,15.4],[78.64,17.65],[81.58,18.5],[84.11,15.1],[86.71,12.35],[89.95,13.7],[92.17,13.05],[94.45,17.65],[97.39,19.9],[100.9,17.5],[103.2,16.5],[105.6,17.1],[108,15.4],[110.4,12.5],[112.9,13.7],[115.5,12.5],[118.1,15.4],[121.7,17.3],[124.4,19.2],[127.3,18.4],[130.2,18.2],[133.1,18.2],[137.1,18.2],[141.3,17.85],[144.5,15.4],[147.8,13.87],[152.3,15.2],[157,15.8],[161.7,17.85],[166.6,15.4],[171.7,11.8],[175.6,15.4],[179.6,17.85],[185,16.3],[189.2,13.7],[193.5,17.5],[198,19.0],[202.5,19.2],[207.1,20.1],[211.7,17.5],[216.6,17.3],[221.5,18.2],[228.2,17.66],[235.2,16.7],[240.5,15.4],[247.8,14.4],[253.4,13.5],[261.1,15.2],[269.1,15.8],[277.3,14.06],[285.7,14.8],[294.3,13.87],[301,13.5],[307.9,12.15],[317.2,11.2],[326.8,11.96],[334.2,13.5],[341.8,14.4],[352.2,15.2],[362.9,16.3],[371.1,16.5],[379.6,15.6],[391.1,16.3],[403,16.3],[415.3,15.0],[427.9,14.25],[440.8,12.5],[450.8,14.06],[461,14.4],[475.1,15.0],[489.5,15.4],[504.4,14.6],[519.7,15.4],[535.5,16.5],[551.8,15.95],[568.6,15.2],[585.8,15.6],[603.6,14.8],[621.9,14.4],[640.8,15.2],[660.3,14.25],[680.3,15.6],[701,15.4],[722.3,15.95],[749.9,15.4],[772.7,16.7],[802.1,16.5],[826.5,16.3],[851.6,15.4],[884.1,14.06],[917.8,16.3],[959.9,16.7],[983,16.85],[1008,15.6],[1033,16.85],[1059,15.84],[1094,16.65],[1121,15.63],[1149,16.85],[1178,17.25],[1207,16.85],[1237,17.05],[1268,17.86],[1299,17.05],[1331,14.6],[1365,15.84],[1399,15.63],[1434,14.6],[1470,14.42],[1493,15.23],[1530,14.42],[1569,16.24],[1608,16.85],[1648,14.6],[1689,15.23],[1730,15.63],[1773,15.43],[1808,14.0],[1848,15.84],[1893,16.24],[1940,16.24],[1987,15.84],[2038,15.23],[2089,15.03],[2141,15.43],[2176,14.0],[2212,13.6],[2249,14.8],[2305,14.6],[2362,15.23],[2421,15.03],[2461,13.5],[2501,13.4]];

const thd = [[20,41.3],[20.75,40.5],[21.52,39.9],[22.46,39.9],[23.73,39.2],[24.77,40.5],[26.01,41.7],[27.48,40.2],[28.51,39.5],[29.94,39.1],[31.44,38.0],[32.41,39.1],[33.34,40.9],[34.66,39.8],[36.4,41.3],[38.14,42.9],[39.9,41.6],[41.64,38.8],[42.93,37.8],[44.81,39.5],[46.77,39.6],[48.82,36.85],[51.13,34.07],[53.18,36.3],[55.04,35.2],[56.88,37.97],[59.22,40.5],[60.83,38.9],[62.34,38.5],[64.66,37.3],[66.67,37.1],[67.91,35.9],[69.17,36.16],[70.62,35.46],[73.08,36.85],[75.35,39.2],[78.16,41.9],[80.59,39.36],[83.59,37.7],[86.71,34.9],[89.4,34.6],[92.17,34.5],[96.21,31.3],[99.2,34.07],[100.5,34.2],[102.5,33.8],[106.4,35.0],[109.6,34.2],[112.1,33.3],[114.6,35.5],[117,40.0],[121.7,33.4],[125.4,33.2],[129.2,32.85],[133.1,32.85],[137.1,31.5],[141.3,30.0],[144.5,28.3],[147.8,30.6],[151.2,33.1],[154.6,33.0],[159.3,32.0],[164.1,33.4],[167.9,34.4],[174.3,32.85],[179.6,33.6],[185,32.95],[192.1,33.7],[197.1,33.1],[200.9,33.7],[208.6,32.66],[218.2,31.5],[226.5,29.3],[235.2,32.3],[246.7,33.5],[257.3,31.5],[269.1,32.2],[277.3,31.9],[285.7,30.5],[298.8,30.4],[310.2,30.95],[324.4,30.0],[341.8,29.4],[354.8,31.5],[368.4,30.4],[382.4,32.1],[391.1,32.85],[403,32.1],[415.3,32.1],[431.1,30.6],[447.5,31.5],[461,32.85],[471.5,34.4],[481,33.4],[493.2,31.8],[508.2,31.3],[519.7,31.5],[531.5,31.5],[547.7,31.9],[560.1,33.4],[575.4,34.5],[590.2,33.4],[608.1,31.1],[626.6,32.2],[650.5,31.7],[675.3,32.3],[695.8,31.8],[716.9,32.66],[738.7,32.85],[761.2,30.8],[784.3,31.4],[814.2,31.8],[838.9,31.1],[870.9,29.06],[897.4,28.1],[931.6,29.2],[959.9,30.0],[979,29.97],[1000,29.2],[1025,29.0],[1059,28.9],[1085,28.1],[1112,28.03],[1149,27.74],[1178,28.0],[1207,28.8],[1247,28.3],[1289,28.9],[1321,28.5],[1365,29.1],[1404,28.7],[1434,28.8],[1474,30.4],[1518,30.6],[1569,30.4],[1621,30.2],[1675,30.2],[1736,30.4],[1788,31.0],[1832,31.67],[1877,31.47],[1907,31.3],[1963,30.6],[2005,31.0],[2047,31.1],[2089,30.8],[2158,30.9],[2212,31.2],[2285,31.4],[2342,31.1],[2401,32.1],[2461,32.13],[2501,32.3],[2563,32.13],[2627,32.1],[2685,32.13],[2715,31.6],[2760,31.0],[2830,30.3],[2922,29.9],[2993,30.0],[3066,30.37],[3141,30.0],[3245,29.5],[3326,29.5],[3409,30.1],[3494,30.7],[3585,31.3],[3673,32.1],[3766,32.6],[3857,33.2],[3932,33.8],[4020,34.0],[4117,33.8],[4222,33.05],[4324,32.2],[4432,31.7],[4542,32.13],[4656,33.2],[4770,33.9],[4890,34.16],[4977,35.07],[5057,35.9],[5183,35.98],[5311,35.9],[5444,35.9],[5580,35.84],[5719,35.8],[5812,35.58],[5890,36.1],[6060,36.2],[6212,36.2],[6419,36.3],[6578,36.1],[6743,35.8],[6909,35.3],[7023,36.2],[7174,37.6],[7377,38.0],[7557,37.6],[7744,37.1],[7935,39.1],[8132,40.3],[8361,41.0],[8604,40.4],[8817,39.8],[8964,39.2],[9113,38.4],[9263,39.6],[9468,39.7],[9696,40.8],[9910,40.3],[10160,40.0],[10490,40.1],[10840,40.3],[11110,40.5],[11380,40.5]];

// ---- axis tick labels ----
const xTickFreqs = [20,30,40,50,60,70,80,90,100,200,300,400,500,600,700,800,900,1000,2000,3000,4000,5000,6000,7000,8000,9000,10000,12000,14000,16000,18000,20000,24000];
const xTickLabels = ['20','30','40','50','60','70','80','90','100','200','300','400','500','600','700','800','900','1k','2k','3k','4k','5k','6k','7k','8k','9k','10k','12k','14k','16k','18k','20k','24kHz'];
const xTickMuted = ['12k','14k','16k','18k'];
const gridDecades = [100,1000,10000];
const gridMain = [30,40,50,60,70,80,90,200,300,400,500,600,700,800,900,2000,3000,4000,5000,6000,7000,8000,9000,20000];
const gridFine = [11000,12000,13000,14000,15000,16000,17000,18000,19000,21000,22000,23000];

// ---- legend ----
const seriesNames = ['Fundamental','2nd Harmonic','3rd Harmonic','4th Harmonic','5th Harmonic','6th Harmonic','7th Harmonic','8th Harmonic','9th Harmonic','THD'];
const legendValues = ['59,3 dB','-27,2 dBr','-24,7 dBr','-25,6 dBr','-35,5 dBr','-34,9 dBr','-43,2 dBr','-39,4 dBr','-39,4 dBr','-20,5 dBr'];
const seriesColors = ['#9a4a12','#cc0000','#e8900a','#e6c200','#23922a','#4664a8','#c840c8','#777777','#0fa0a0','#404040'];
const seriesData = [fundamental,harmonic2,harmonic3,harmonic4,harmonic5,harmonic6,harmonic7,harmonic8,harmonic9,thd];

const FONT = '"Liberation Sans", Arial, sans-serif';
const L = v => Math.log10(v);
const chart = echarts.init(document.getElementById('c'), null, {renderer: 'svg', width: 2000, height: 2615});

const xTickLogs = xTickFreqs.map(L);
const vline = (f, color) => ({xAxis: L(f), lineStyle: {color: color, width: 1, type: 'solid'}});
const markData = [].concat(
  gridFine.map(f => vline(f, '#dedede')),
  gridMain.map(f => vline(f, '#c2c2c2')),
  gridDecades.map(f => vline(f, '#8a8a8a'))
);

const series = [{
  type: 'line', z: 1, silent: true, showSymbol: false, symbol: 'none',
  data: [[L(20), 0]], lineStyle: {width: 0},
  markLine: {silent: true, symbol: ['none','none'], label: {show: false}, animation: false, data: markData}
}];
seriesData.forEach((d, i) => {
  series.push({
    name: seriesNames[i], type: 'line', z: 2 + i, silent: true,
    showSymbol: false, symbol: 'none', smooth: 0.4,
    lineStyle: {color: seriesColors[i], width: 2.9, join: 'round', cap: 'round'},
    data: d.map(p => [L(p[0]), p[1]])
  });
});

// legend graphics
const graphics = [];
const colNameX = [27, 378.5, 729, 1079.5, 1430.5];
const rowY = [2577, 2601];
seriesNames.forEach((name, i) => {
  const col = i % 5, row = Math.floor(i / 5);
  const nx = colNameX[col], cy = rowY[row];
  graphics.push({type: 'rect', shape: {x: nx - 19, y: cy - 6.5, width: 13, height: 13, r: 2},
    style: {fill: '#e6e6e6', stroke: '#6e6e6e', lineWidth: 1}});
  graphics.push({type: 'polyline', shape: {points: [[nx - 16, cy - 0.5], [nx - 13.3, cy + 3.8], [nx - 9, cy - 4.8]]},
    style: {fill: 'none', stroke: '#111', lineWidth: 1.8}});
  if (name === 'THD') {
    graphics.push({type: 'text', style: {x: nx, y: cy - 4, text: 'THD', fill: seriesColors[i], font: '12px ' + FONT, textAlign: 'left', textVerticalAlign: 'middle', align: 'left', verticalAlign: 'middle'}});
    graphics.push({type: 'text', style: {x: nx + 25, y: cy + 4, text: 'H2..9', fill: seriesColors[i], font: '9px ' + FONT, textAlign: 'left', textVerticalAlign: 'middle', align: 'left', verticalAlign: 'middle'}});
  } else {
    graphics.push({type: 'text', style: {x: nx, y: cy, text: name, fill: seriesColors[i], font: '12px ' + FONT, textAlign: 'left', textVerticalAlign: 'middle', align: 'left', verticalAlign: 'middle'}});
  }
  graphics.push({type: 'line', shape: {x1: nx + 152, y1: cy, x2: nx + 207, y2: cy}, style: {stroke: seriesColors[i], lineWidth: 3.5}});
  graphics.push({type: 'text', style: {x: nx + 293, y: cy, text: legendValues[i], fill: seriesColors[i], font: '12px ' + FONT, textAlign: 'right', textVerticalAlign: 'middle', align: 'right', verticalAlign: 'middle'}});
});
graphics.push({type: 'text', style: {x: 1011, y: 32, text: 'Distortion', fill: '#333', font: 'bold 24px ' + FONT, textAlign: 'center', textVerticalAlign: 'middle', align: 'center', verticalAlign: 'middle'}, z: 100});
graphics.push({type: 'text', style: {x: 17, y: 8, text: 'SPL', fill: '#222', font: '11px ' + FONT, textAlign: 'left', textVerticalAlign: 'middle', align: 'left', verticalAlign: 'middle'}});

chart.setOption({
  animation: false,
  backgroundColor: '#ffffff',
  grid: {left: 44, top: 18, right: 22, bottom: 77, show: true, borderColor: '#8f8f8f', borderWidth: 2,
         backgroundColor: '#ffffff', shadowColor: 'rgba(0,0,0,0.25)', shadowBlur: 4, containLabel: false},
  xAxis: {
    type: 'value', min: L(20), max: L(24000),
    splitLine: {show: false}, axisTick: {show: false},
    axisLine: {show: true, onZero: false, lineStyle: {color: '#7a7a7a', width: 2}},
    axisLabel: {
      customValues: xTickLogs, showMinLabel: true, showMaxLabel: true, margin: 8,
      fontFamily: FONT, fontSize: 11.5, color: '#111',
      formatter: function (v) {
        let idx = -1;
        for (let k = 0; k < xTickLogs.length; k++) if (Math.abs(xTickLogs[k] - v) < 1e-6) idx = k;
        if (idx < 0) return '';
        const t = xTickLabels[idx];
        return xTickMuted.indexOf(t) >= 0 ? '{g|' + t + '}' : '{b|' + t + '}';
      },
      rich: {g: {color: '#a0a0a0', fontFamily: FONT, fontSize: 11.5}, b: {color: '#111', fontFamily: FONT, fontSize: 11.5}}
    }
  },
  yAxis: {
    type: 'value', min: 0, max: 100, interval: 1,
    axisTick: {show: false},
    axisLine: {show: true, lineStyle: {color: '#9a9a9a', width: 2}},
    splitLine: {show: true, lineStyle: {color: ['#b9b9b9', '#dcdcdc'], width: 1}},
    minorTick: {show: false, splitNumber: 2},
    minorSplitLine: {show: true, lineStyle: {color: '#e6e6e6', width: 1}},
    axisLabel: {
      margin: 6, fontFamily: FONT, fontSize: 11,
      formatter: function (v) {
        if (v >= 100) return '';
        return (v % 2 === 0) ? '{b|' + v + '}' : '{g|' + v + '}';
      },
      rich: {b: {color: '#111', fontFamily: FONT, fontSize: 11}, g: {color: '#9a9a9a', fontFamily: FONT, fontSize: 11}}
    }
  },
  graphic: graphics,
  series: series
});
</script>
</body></html>
